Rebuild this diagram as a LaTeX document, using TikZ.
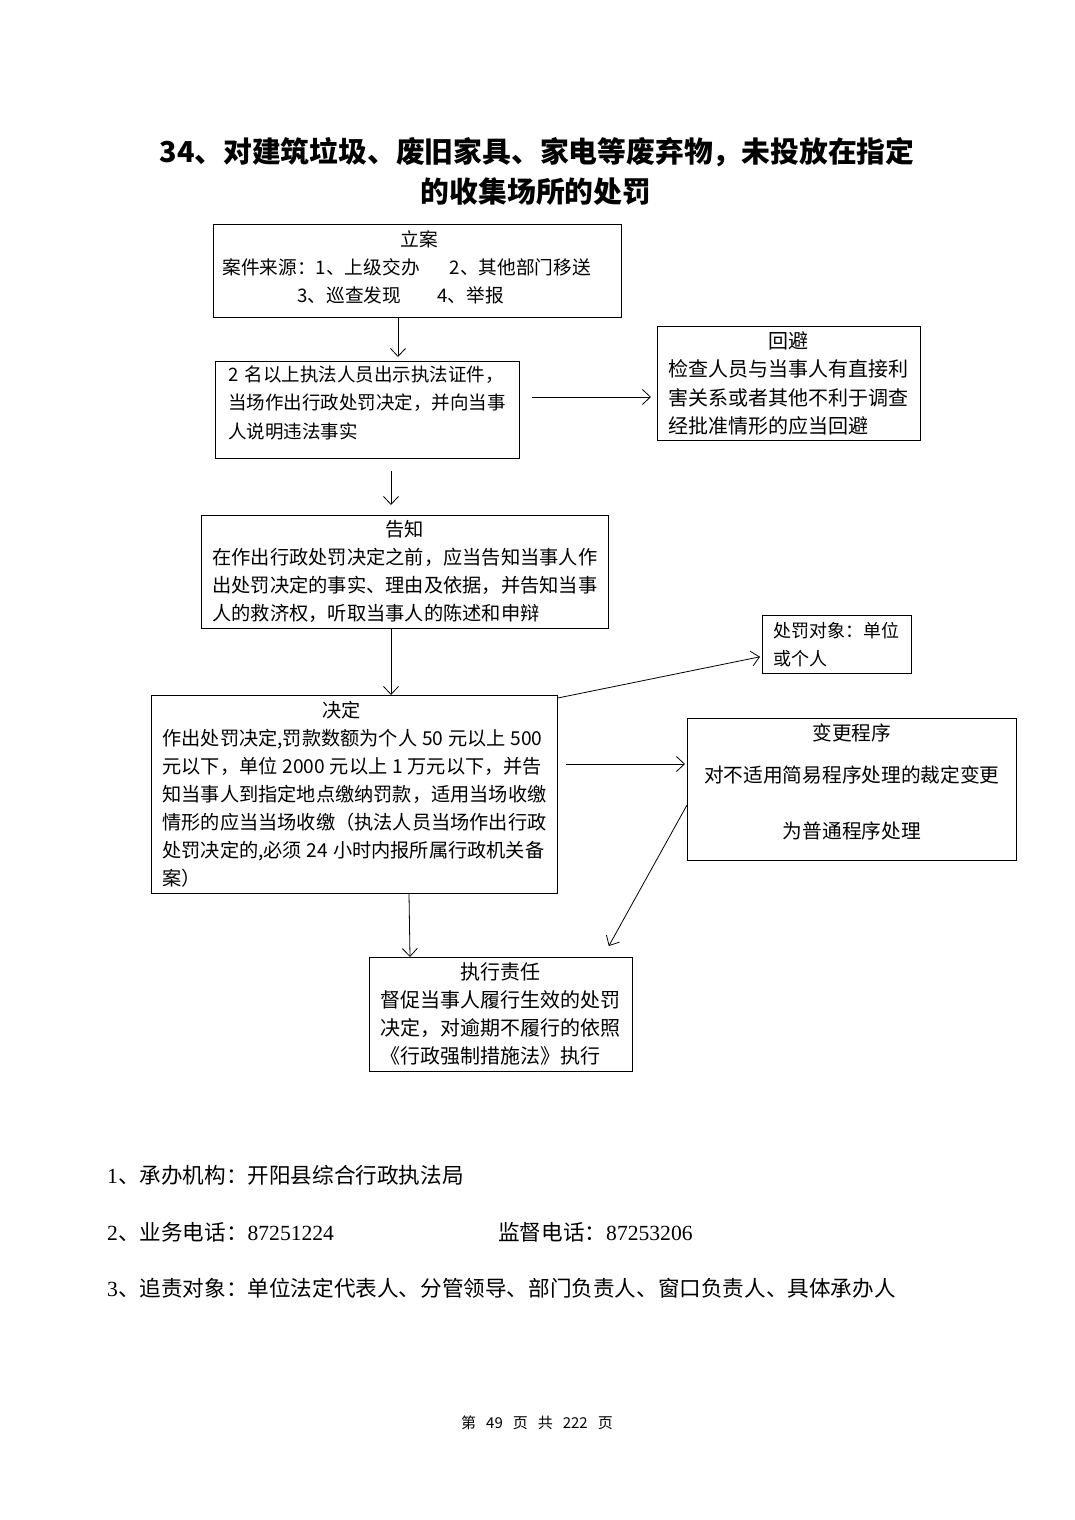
\documentclass[tikz,border=0pt]{standalone}
\usepackage{fontspec}
\setmainfont{Noto Sans CJK SC}
\newfontfamily\serifdig{Liberation Serif}
\usetikzlibrary{arrows.meta}
\newcommand\myfs[2]{\fontsize{#1pt}{#2pt}\selectfont}
\newcommand\ctr[1]{\hspace*{\fill}#1\hspace*{\fill}\mbox{}}
\newcommand\sd[1]{{\serifdig #1}}
\begin{document}
\begin{tikzpicture}[x=1pt,y=-1pt,
  box/.style={draw, line width=0.8pt, anchor=north west, inner ysep=0pt, align=left,
    execute at begin node={\setlength{\parindent}{0pt}}},
  arr/.style={line width=0.8pt, -{Straight Barb[length=8pt,width=15pt,line width=0.8pt]}},
  txt/.style={inner sep=0pt, anchor=base west}]
\useasboundingbox[fill=white] (0,0) rectangle (1074,1520);

% title
\node[txt, anchor=base, font=\bfseries\myfs{28.8}{34}] (title1) at (537,162) {34、对建筑垃圾、废旧家具、家电等废弃物，未投放在指定};
\node[txt, anchor=base, font=\bfseries\myfs{28.8}{34}] (title2) at (536,202) {的收集场所的处罚};

% boxes
\node[box, inner xsep=9pt, text width=390pt, text height=22pt, text depth=71pt, font=\myfs{18.7}{28}] (lian) at (213,224)
 {\hspace*{178pt}立案\\案件来源：1、上级交办\hspace{30pt}2、其他部门移送\\\hspace*{75pt}3、巡查发现\hspace{36pt}4、举报};

\node[box, inner xsep=13pt, text width=278pt, text height=20pt, text depth=77pt, font=\myfs{18.5}{28.5}] (zhifa) at (215,361)
 {2 名以上执法人员出示执法证件，\\当场作出行政处罚决定，并向当事\\人说明违法事实};

\node[box, inner xsep=11pt, text width=241pt, text height=22pt, text depth=92pt, font=\myfs{20}{28.3}] (huibi) at (657,326)
 {\ctr{回避}\\检查人员与当事人有直接利\\害关系或者其他不利于调查\\经批准情形的应当回避};

\node[box, inner xsep=11pt, text width=385pt, text height=21pt, text depth=92pt, font=\myfs{19.25}{28}] (gaozhi) at (201,515)
 {\ctr{告知}\\在作出行政处罚决定之前，应当告知当事人作\\出处罚决定的事实、理由及依据，并告知当事\\人的救济权，听取当事人的陈述和申辩};

\node[box, inner xsep=11pt, text width=127pt, text height=22pt, text depth=36pt, font=\myfs{18}{28}] (duixiang) at (762,615)
 {处罚对象：单位\\或个人};

\node[box, inner xsep=11pt, text width=384pt, text height=22pt, text depth=176pt, font=\myfs{19.2}{28}] (jueding) at (151,695)
 {\hspace*{160pt}决定\\\mbox{作出处罚决定,罚款数额为个人\kern.25em 50\kern.25em 元以上\kern.25em 500}\\\mbox{元以下，单位\kern.25em 2000\kern.25em 元以上\kern.25em 1\kern.25em 万元以下，并告}\\知当事人到指定地点缴纳罚款，适用当场收缴\\情形的应当当场收缴（执法人员当场作出行政\\\mbox{处罚决定的,必须\kern.25em 24\kern.25em 小时内报所属行政机关备}\\案）};

\node[box, inner xsep=8pt, text width=313pt, text height=22pt, text depth=120pt, align=center, font=\myfs{19.7}{28}] (biangeng) at (687,718)
 {变更程序\\[14pt]对不适用简易程序处理的裁定变更\\[28pt]为普通程序处理};

\node[box, inner xsep=11pt, text width=241pt, text height=22pt, text depth=92pt, font=\myfs{20}{28}] (zhixing) at (369,957)
 {\ctr{执行责任}\\督促当事人履行生效的处罚\\决定，对逾期不履行的依照\\《行政强制措施法》执行};

% connectors
\draw[arr] ([shift={(185,0)}]lian.south west) -- ([shift={(183,-4)}]zhifa.north west);
\draw[arr] ([shift={(12,36)}]zhifa.north east) -- ([shift={(-6,71)}]huibi.north west);
\draw[arr] ([shift={(176,12)}]zhifa.south west) -- ([shift={(190,-10)}]gaozhi.north west);
\draw[arr] ([shift={(190,0)}]gaozhi.south west) -- ([shift={(240,0)}]jueding.north west);
\draw[arr] ([shift={(0,3)}]jueding.north east) -- ([shift={(-2,-17)}]duixiang.south west);
\draw[arr] ([shift={(8,69)}]jueding.north east) -- ([shift={(-2,46)}]biangeng.north west);
\draw[arr] ([shift={(258,0)}]jueding.south west) -- ([shift={(41,0)}]zhixing.north west);
\draw[arr] ([shift={(0,87)}]biangeng.north west) -- ([shift={(-24,-11)}]zhixing.north east);

% footer
\node[txt, font=\myfs{21.6}{26}] (f1) at (107,1183) {\sd{1}、承办机构：开阳县综合行政执法局};
\node[txt, font=\myfs{21.6}{26}] (f2) at (107,1240) {\sd{2}、业务电话：\sd{87251224}};
\node[txt, font=\myfs{21.6}{26}] (f2b) at (498,1240) {监督电话：\sd{87253206}};
\node[txt, font=\myfs{21.6}{26}] (f3) at (107,1296) {\sd{3}、追责对象：单位法定代表人、分管领导、部门负责人、窗口负责人、具体承办人};
\node[txt, anchor=base, font=\myfs{15}{18}] (page) at (537,1428) {第\hspace{10pt}49\hspace{10pt}页\hspace{10pt}共\hspace{10pt}222\hspace{10pt}页};
\end{tikzpicture}
\end{document}
